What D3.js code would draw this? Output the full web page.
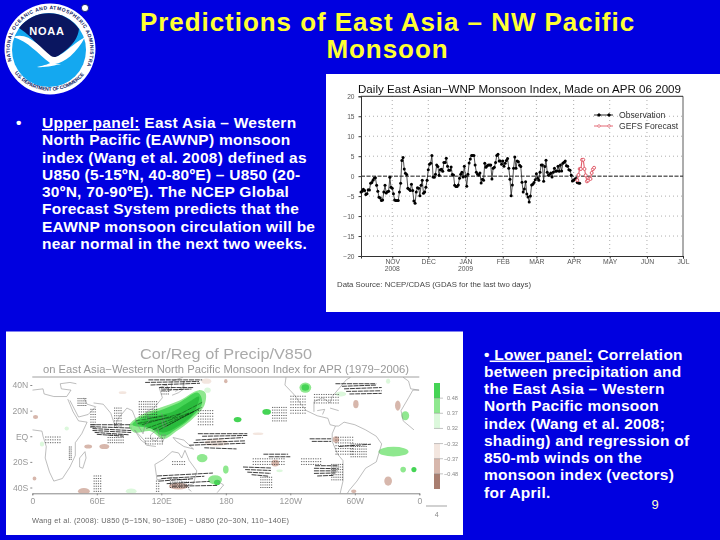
<!DOCTYPE html>
<html><head><meta charset="utf-8">
<script src="https://cdn.jsdelivr.net/npm/d3@7/dist/d3.min.js"></script>
<style>
html,body{margin:0;padding:0;background:#0000e0;overflow:hidden}
svg{display:block}
text{font-family:"Liberation Sans",Arial,sans-serif}
tspan.pre{white-space:pre}
</style></head><body>
<svg id="s" width="720" height="540"></svg>
<script>
// ---------- slide text ----------
const titleLines = ["Predictions of East Asia – NW Pacific", "Monsoon"];
const upperText = [
 "Upper panel: East Asia – Western","North Pacific (EAWNP) monsoon","index (Wang et al. 2008) defined as",
 "U850 (5-15ºN, 40-80ºE) – U850 (20-","30ºN, 70-90ºE). The NCEP Global","Forecast System predicts that the",
 "EAWNP monsoon circulation will be","near normal in the next two weeks."];
const lowerText = [
 "Lower panel: Correlation","between precipitation and","the East Asia – Western","North Pacific monsoon",
 "index (Wang et al. 2008;","shading) and regression of","850-mb winds on the","monsoon index (vectors)","for April."];
// ---------- monsoon index data (daily) ----------
const obsOct = [-4,-3.8,-3.3,-3.6,-4.6,-4.4,-3.4,-3.5,-1.8,-1.6,-1,-0.5,-0.4,-2.3,-3.8,-5.3,-5.5,-6.1,-6,-4,-2.3,-4.2,-3.9,-3.8,-0.3,-2.8];
const obsNov = [-3,-4.4,-6,-6.1,-6.1,-6.1,-4,-1.8,3.9,4.7,1.8,0.7,0.4,-3,-3.3,-3.6,-2,-3.6,-6.2,-6.8,-4,-2.9,-3,-4.9,-2.3,-1,-4.3,-4,-2.8,-1];
const obsDec = [1.6,3,3.2,5.2,-0.2,-0.3,0.5,2.8,2.4,0.2,1.6,1.7,1.2,3.4,3.4,4.5,2.5,1.5,1.5,2.3,0.4,0.3,-2.3,-2.6,-2.6,-2.2,-0.5,0.5,1,-0.2,2.5];
const obsJan = [0,-2.5,0.5,3.3,4.3,5.2,5.2,5.2,2.8,1,0.5,0.3,0.8,-1.7,-0.8,-1,3.2,2.2,2.6,2.8,2.8,2.8,-0.7,2,2.2,3.4,5.2,5.5,3.8,3.8,3];
const obsFeb = [3.8,2.5,3.2,3.9,4.4,2,-0.8,-4.9,-2.2,2,4.8,2,3.8,3.6,2.7,2.4,-1.5,-4,-3.2,-1.4,-4.5,-5.2,-6.5,-5,-2.2,-2,-1.6,-0.9];
const obsMar = [0.6,-0.5,-1,1,2.8,2.8,-1.3,2.4,4,1,0.2,0.5,0.8,-0.2,1,2,1.2,1.3,2.5,1.2,2.8,1.3,3.2,3.5,3.8,2.6,2.5,1.6,1.5,0.2,-1.2];
const obsApr = [-1,-0.7,-0.6,-1.6,-1.7,-1.8];
const forecastVals = [-1,0.3,1.8,1.8,4.1,4.1,1.8,0.2,-1.3,-1.1,-0.6,-0.7,0.8,1.7,2.1];
const yTicks = [20,15,10,5,0,-5,-10,-15,-20];
const monthTicks = [["2008-11-01","NOV","2008"],["2008-12-01","DEC",""],["2009-01-01","JAN","2009"],["2009-02-01","FEB",""],["2009-03-01","MAR",""],["2009-04-01","APR",""],["2009-05-01","MAY",""],["2009-06-01","JUN",""],["2009-07-01","JUL",""]];
// ---------- map data (lon 0-360, lat) ----------
const mapLonTicks = [[0,"0"],[60,"60E"],[120,"120E"],[180,"180"],[240,"120W"],[300,"60W"],[360,"0"]];
const mapLatTicks = [[40,"40N"],[20,"20N"],[0,"EQ"],[-20,"20S"],[-40,"40S"]];
const levelColors = {g3:"#45d455",g2:"#8fe88f",g1:"#dcf8dc",b1:"#f3e6df",b2:"#d7b7ac",b3:"#a97e70",g4:"#2cbc3c"};
const legendLevels = ["g3","g2","g1","none","b1","b2","b3"];
const legendLabels = ["0.48","0.37","0.32","-0.32","-0.37","-0.48"];
const mainGreenOuter = [[90,8],[100,16],[118,22],[137,28],[155,36],[161,34],[160,24],[147,12],[134,4],[122,-2],[110,4],[95,3]];
const mainGreenInner = [[93,9],[102,15],[118,20],[136,26],[154,34],[158,26],[146,13],[133,5],[122,0],[110,6]];
const mainGreenDark = [[98,10],[116,16],[130,19],[146,27],[155,31],[150,18],[136,8],[122,3],[108,7]];
const patches = [ // lon, lat, rx, ry, level
 [254,38,5.5,4,"g2"],[254,38,3.5,2.5,"g3"],[218,19,4,2.2,"g3"],[191,13,3.6,2,"g3"],[158,-17,5,3.2,"g2"],
 [170,-34,6.5,3.6,"g2"],[172,-36,3,2,"g3"],[180,-26,2.6,3.2,"g2"],[336,-12,14,3.8,"g2"],[347,16,3.6,3.6,"g2"],[345,-26,2.6,2.2,"g2"],
 [355,-26,2.4,2,"g3"],[287,33,5,2,"g1"],[331,43,2,2,"g1"],[92,-43,5,2.2,"g1"],[32,6,2,1.6,"g1"],[9,-6,2,2,"g1"],[163,36,3,2,"g1"],[230,-27,3,1,"g1"],
 [162,43,4.5,2,"b1"],[180,43,1.6,1.6,"b2"],[301,25,2.5,3.2,"b2"],[340,24,2.6,4,"b2"],[282.5,-2.6,3,2.6,"b2"],
 [331,-35,3.6,3.6,"b2"],[226,-21,3.6,2.6,"b2"],[136,-39,9,2.6,"b2"],[48,-43,5.5,2.6,"b2"],[3,15,2.4,1.6,"b2"],
 [2,-33,1.8,1.6,"b2"],[52,-8,3.6,1.6,"b2"],[67,-8,4.6,2,"b2"],[171,-5,11,3,"b1"],[299,-43,2.5,1.4,"b2"],[84,34,3.6,1.1,"b1"],[210,2,5,1,"b1"]
];
const coastlines = [
 [[0,5],[9,4],[10,0],[13,-8],[12,-17],[16,-28],[20,-35],[28,-33],[35,-24],[40,-15],[40,-5],[46,2],[51,11],[43,12],[38,19],[33,29]],
 [[0,36],[10,37],[11,33],[20,31],[32,31],[36,36],[27,37],[26,41],[35,42],[41,41]],
 [[35,28],[43,15],[52,17],[59,23],[51,25],[48,30]],
 [[57,26],[66,25],[69,22],[73,18],[77,8],[80,14],[88,22],[93,20],[95,16],[98,9],[103,2],[105,9],[109,12],[106,19],[113,22],[121,30],[118,38],[125,40],[127,35],[129,36],[130,43],[140,46]],
 [[130,32],[136,34],[141,37],[141,43],[140,38],[133,35]],
 [[95,5],[104,-3],[106,-6],[101,-3],[95,5]],[[106,-7],[115,-8]],
 [[110,1],[117,6],[118,0],[115,-4],[110,-2],[110,1]],
 [[120,18],[122,14],[125,8],[122,7],[120,14]],
 [[120,1],[124,1],[121,-5],[120,1]],
 [[131,-1],[141,-3],[150,-10],[141,-8],[134,-4],[131,-1]],
 [[114,-22],[122,-18],[130,-12],[136,-13],[139,-17],[142,-11],[146,-19],[153,-27],[150,-37],[143,-39],[138,-34],[130,-32],[116,-34],[114,-22]],
 [[145,-41],[148,-43]],[[172,-35],[178,-38],[172,-44]],
 [[49,-12],[50,-17],[47,-25],[44,-24],[44,-17],[49,-12]],
 [[236,46],[235,40],[243,33],[250,25],[255,20],[265,16],[275,14],[277,9],[282,8],[285,8],[290,11],[300,9],[310,5],[320,0],[325,-6],[320,-20],[310,-25],[302,-35],[295,-42],[292,-46]],
 [[282,8],[279,2],[279,-4],[284,-14],[289,-19],[289,-35],[286,-46]],
 [[262,19],[262,27],[270,30],[277,26],[279,31],[285,37],[292,44],[296,46]],
 [[277,22],[285,20]],[[265,20],[272,21],[270,17]],
 [[355,5],[345,12],[343,20],[350,30],[354,36],[360,36]],
 [[345,46],[350,43],[352,37],[360,36]]
];
const stipple = [ // lon0, lon1, lat0, lat1, step
 [99,116,15,29,2],[154,168,9,22,2.2],[42,50,24,31,1.8],[12,26,-5,0,2.2],[54,60,7,23,2],[76,84,8,24,2],
 [115,118,-43,-33,2],[128,146,-40,-32,2.1],[130,143,-22,-18,2.2],[212,224,-40,-30,2],[282,298,-14,1,2.2],[296,312,-16,-4,2],
 [57,64,-43,-29,2],[34,36,-18,-8,1.6],[70,86,-5,3,2],[105,122,-6,-1,2.2],[223,236,12,24,2.1],[240,254,18,33,2.2],
 [278,290,-34,-20,2],[205,235,-22,-17,2.2],[250,268,-22,-16,2.2],[262,286,26,34,2.2],[120,128,33,39,2]
];
const windRows = [ // lon0, lon1, lat, tilt(deg)
 [54,92,9,0],[54,92,7.5,-2],[56,92,6,-3],[56,92,4.5,-3],[58,90,3,-4],[60,85,1.5,-4],
 [108,158,44,0],[105,155,42,1],[110,156,40,2],[118,150,38,0],[120,148,36,2],
 [154,200,2,0],[158,200,0,1],[152,196,-3,3],[150,198,-5,2],[146,198,-7,2],[160,190,-9,-2],
 [116,168,-31,3],[120,160,-33,3],[118,150,-35,4],[125,165,-37,3],[130,172,-39,1],
 [196,222,-24,-2],[198,222,-26,-2],[200,222,-28,-3],[204,220,-30,-5],
 [263,285,-23,0],[262,285,-25,-1],[262,284,-27,0],[262,282,-29,1],[265,280,-31,2],
 [282,320,41,0],[288,320,39,2],[290,325,37,2],[292,325,35,1],[295,325,33,1],
 [258,278,-2,0],[260,278,-4,0],[215,238,-14,0],[220,240,-16,0],[285,315,-8,4],
 [96,125,12,10],[98,130,10,10],[102,138,9,16],[106,146,6,20],[112,150,5,24],[118,155,5,28],[125,158,8,28],[130,158,14,28]
];

// ---------- drawing ----------
const svg = d3.select("#s");
const blue = "#0000e0";
svg.append("rect").attr("width",720).attr("height",540).attr("fill",blue);
const defs = svg.append("defs");
defs.append("filter").attr("id","soft").attr("x","-5%").attr("y","-5%").attr("width","110%").attr("height","110%")
  .append("feGaussianBlur").attr("stdDeviation",0.45);

// title
svg.selectAll("text.t").data(titleLines).join("text").attr("class","t")
  .attr("x",387.5).attr("y",(d,i)=>30.5+i*27.5).attr("text-anchor","middle")
  .attr("font-size",26).attr("letter-spacing",0.95).attr("font-weight",700).attr("fill","#ffff33").text(d=>d);

// bullets
const bodySize = 15.5, bodySpacing = 0.25;
const bl = svg.append("g").attr("font-size",bodySize).attr("letter-spacing",bodySpacing).attr("font-weight",700).attr("fill","#fff");
bl.append("text").attr("x",16).attr("y",128).text("•");
upperText.forEach((s,i)=>{
  const t = bl.append("text").attr("x",42).attr("y",128+i*17.25);
  if(i===0){ t.append("tspan").attr("text-decoration","underline").text("Upper panel:"); t.append("tspan").attr("class","pre").text(s.slice(12)); }
  else t.text(s);
});
const br = svg.append("g").attr("font-size",bodySize).attr("letter-spacing",bodySpacing).attr("font-weight",700).attr("fill","#fff");
lowerText.forEach((s,i)=>{
  const t = br.append("text").attr("x",484).attr("y",359.5+i*17.25);
  if(i===0){ t.append("tspan").text("•"); t.append("tspan").attr("class","pre").attr("text-decoration","underline").text(" Lower panel:"); t.append("tspan").attr("class","pre").text(s.slice(12)); }
  else t.text(s);
});
svg.append("text").attr("x",655).attr("y",508.5).attr("text-anchor","middle").attr("font-size",13).attr("fill","#ffffcc").text("9");

// NOAA logo
const logo = svg.append("g").attr("transform","translate(50,49)");
logo.append("circle").attr("r",45.5).attr("fill","#fff");
logo.append("circle").attr("r",37).attr("cx",-1).attr("cy",1).attr("fill","#14a8f0");
logo.append("path").attr("fill","#0a1660")
  .attr("d","M-31,-21 A37,37 0 0 1 29,-20 C27,-3 10,5 1,12 C-6,5 -14,-10 -31,-21Z");
logo.append("path").attr("fill","#fff")
  .attr("d","M-37,-12 C-22,-18 -10,-2 1,7 C8,12 18,-2 35,-12 C27,4 14,14 5,15 L11,15 C6,16 -6,19 -13,18 C-4,16 -2,15 0,14 C-12,5 -22,-8 -37,-12Z");
logo.append("text").attr("x",-3).attr("y",-14).attr("text-anchor","middle").attr("font-size",11).attr("font-weight",700).attr("fill","#fff").attr("letter-spacing",0.8).text("NOAA");
defs.append("path").attr("id","ringTop").attr("d","M-37.5,15 A40.2,40.2 0 1 1 37.5,15");
defs.append("path").attr("id","ringBot").attr("d","M-36,23 A44,44 0 0 0 36,23");
logo.append("text").attr("font-size",5).attr("font-weight",700).attr("fill","#0a1660")
  .append("textPath").attr("href","#ringTop").attr("startOffset","2%").attr("textLength",168).text("NATIONAL OCEANIC AND ATMOSPHERIC ADMINISTRATION");
logo.append("text").attr("font-size",5).attr("font-weight",700).attr("fill","#0a1660")
  .append("textPath").attr("href","#ringBot").attr("startOffset","1%").attr("textLength",80).text("U.S. DEPARTMENT OF COMMERCE");
logo.append("circle").attr("cx",35).attr("cy",-41).attr("r",3.6).attr("fill","#fff").attr("stroke","#0a1660").attr("stroke-width",0.8);

// ---------- upper chart ----------
svg.append("rect").attr("x",326).attr("y",74).attr("width",394).attr("height",238).attr("fill","#fff");
const up = svg.append("g").attr("filter","url(#soft)");
const parse = d3.utcParse("%Y-%m-%d");
const day = 864e5;
const start = parse("2008-10-06");
const x = d3.scaleUtc().domain([start,parse("2009-07-01")]).range([361,683]);
const y = d3.scaleLinear().domain([-20,20]).range([256,96.3]);
const obsVals = [].concat(obsOct,obsNov,obsDec,obsJan,obsFeb,obsMar,obsApr);
const obs = obsVals.map((v,i)=>({d:new Date(+start+i*day),v}));
const fcStart = parse("2009-04-04");
const fc = forecastVals.map((v,i)=>({d:new Date(+fcStart+i*day),v}));
// grid
up.append("g").selectAll("line").data(yTicks.filter(t=>Math.abs(t)<20&&t!==0)).join("line")
  .attr("x1",361).attr("x2",683).attr("y1",y).attr("y2",y).attr("stroke","#999").attr("stroke-width",0.8).attr("stroke-dasharray","1 3");
up.append("g").selectAll("line").data(monthTicks.slice(0,8)).join("line")
  .attr("x1",d=>x(parse(d[0]))).attr("x2",d=>x(parse(d[0]))).attr("y1",96).attr("y2",256).attr("stroke","#999").attr("stroke-width",0.8).attr("stroke-dasharray","1 3");
up.append("line").attr("x1",361).attr("x2",683).attr("y1",y(0)).attr("y2",y(0)).attr("stroke","#111").attr("stroke-width",1).attr("stroke-dasharray","4 1.5");
// axes
const yAxis = d3.axisLeft(y).tickValues(yTicks).tickSize(2.5).tickFormat(d=>d<0?"−"+(-d):d);
const ya = up.append("g").attr("transform","translate(361,0)").call(yAxis);
ya.selectAll("text").attr("font-size",6.6).attr("fill","#555").attr("font-family","Liberation Sans").attr("dx",-1);
ya.selectAll("line,path").attr("stroke","#333");
const xAxis = d3.axisBottom(x).tickValues(monthTicks.map(d=>parse(d[0]))).tickSize(2.5).tickFormat((d,i)=>monthTicks[i][1]);
const xa = up.append("g").attr("transform","translate(0,256)").call(xAxis);
xa.selectAll("text").attr("font-size",6.8).attr("fill","#555").attr("font-family","Liberation Sans").attr("dy",2);
xa.selectAll("line,path").attr("stroke","#333");
up.append("g").selectAll("text").data(monthTicks.filter(d=>d[2])).join("text")
  .attr("x",d=>x(parse(d[0]))).attr("y",270.5).attr("text-anchor","middle").attr("font-size",6.8).attr("font-family","Liberation Sans").attr("fill","#555").text(d=>d[2]);
up.append("line").attr("x1",361).attr("x2",683).attr("y1",96.3).attr("y2",96.3).attr("stroke","#111").attr("stroke-width",.9);
up.append("line").attr("x1",683).attr("x2",683).attr("y1",96.3).attr("y2",256).attr("stroke","#333").attr("stroke-width",.8);
// series
const ln = d3.line().x(d=>x(d.d)).y(d=>y(d.v));
up.append("path").datum(obs).attr("d",ln).attr("fill","none").attr("stroke","#222").attr("stroke-width",0.8);
up.append("g").selectAll("circle").data(obs).join("circle").attr("cx",d=>x(d.d)).attr("cy",d=>y(d.v)).attr("r",1.5).attr("fill","#000");
up.append("path").datum(fc).attr("d",ln).attr("fill","none").attr("stroke","#e05a68").attr("stroke-width",1.1);
up.append("g").selectAll("circle").data(fc).join("circle").attr("cx",d=>x(d.d)).attr("cy",d=>y(d.v)).attr("r",1.5).attr("fill","#fff").attr("stroke","#e05a68").attr("stroke-width",1);
// title + legend
up.append("text").attr("x",519.5).attr("y",93).attr("text-anchor","middle").attr("font-size",10.8).attr("font-family","DejaVu Sans").attr("fill","#111").attr("textLength",323).attr("lengthAdjust","spacingAndGlyphs").text("Daily East Asian−WNP Monsoon Index, Made on APR 06 2009");
const legendItems = [["Observation","#111",115,"#000","#000"],["GEFS Forecast","#e05a68",126,"#fff","#e05a68"]];
legendItems.forEach(l=>{
  up.append("line").attr("x1",594).attr("x2",613).attr("y1",l[2]).attr("y2",l[2]).attr("stroke",l[1]).attr("stroke-width",0.9);
  [599,609].forEach(cx=>up.append("circle").attr("cx",cx).attr("cy",l[2]).attr("r",1.3).attr("fill",l[3]).attr("stroke",l[4]).attr("stroke-width",0.7));
  up.append("text").attr("x",619).attr("y",l[2]+2.6).attr("font-size",8.6).attr("font-family","DejaVu Sans").attr("fill","#333").text(l[0]);
});
up.append("text").attr("x",337).attr("y",287).attr("font-size",7).attr("font-family","DejaVu Sans").attr("fill","#444").attr("textLength",194).attr("lengthAdjust","spacingAndGlyphs").text("Data Source: NCEP/CDAS (GDAS for the last two days)");

// ---------- lower map ----------
svg.append("rect").attr("x",6).attr("y",331.5).attr("width",457).attr("height",203.5).attr("fill","#fff");
const mp = svg.append("g").attr("filter","url(#soft)");
const lon = d3.scaleLinear().domain([0,360]).range([32.3,419.3]);
const lat = d3.scaleLinear().domain([-40,40]).range([487.5,385]);
const mapTop = 377, mapBot = 493.3;
defs.append("clipPath").attr("id","mapClip").append("rect").attr("x",32.3).attr("y",mapTop).attr("width",387).attr("height",mapBot-mapTop);
const inner = mp.append("g").attr("clip-path","url(#mapClip)");
const curve = d3.line().x(d=>lon(d[0])).y(d=>lat(d[1])).curve(d3.curveCatmullRomClosed);
[[mainGreenOuter,"g2"],[mainGreenInner,"g3"],[mainGreenDark,"g4"]].forEach(p=>{
  inner.append("path").datum(p[0]).attr("d",curve).attr("fill",levelColors[p[1]]);
});
inner.append("g").selectAll("ellipse").data(patches).join("ellipse")
  .attr("cx",d=>lon(d[0])).attr("cy",d=>lat(d[1]))
  .attr("rx",d=>lon(d[2])-lon(0)).attr("ry",d=>lat(0)-lat(d[3])).attr("fill",d=>levelColors[d[4]]);
const coast = d3.line().x(d=>lon(d[0])).y(d=>lat(d[1]));
inner.append("g").selectAll("path").data(coastlines).join("path").attr("d",coast).attr("fill","none").attr("stroke","#888").attr("stroke-width",0.55);
// stipple (small wind vectors)
const dotData = stipple.flatMap(s=>d3.range(s[0],s[1],s[4]).flatMap(a=>d3.range(s[2],s[3],s[4]).map(b=>[a,b])));
inner.append("g").selectAll("line").data(dotData).join("line")
  .attr("x1",d=>lon(d[0])).attr("y1",d=>lat(d[1])).attr("x2",d=>lon(d[0])+1.2).attr("y2",d=>lat(d[1]))
  .attr("stroke","#222").attr("stroke-width",0.7);
// wind streak rows
inner.append("g").selectAll("line").data(windRows).join("line")
  .attr("x1",d=>lon(d[0])).attr("y1",d=>lat(d[2])).attr("x2",d=>lon(d[1])).attr("y2",d=>lat(d[2])-Math.tan(d[3]*Math.PI/180)*(lon(d[1])-lon(d[0])))
  .attr("stroke","#000").attr("stroke-width",0.75).attr("stroke-opacity",d=>d[3]>=10?0.5:1).attr("stroke-dasharray","5 0.8");
// frame + ticks
mp.append("line").attr("x1",32.3).attr("x2",419.3).attr("y1",mapTop).attr("y2",mapTop).attr("stroke","#888").attr("stroke-width",.8);
const ax = d3.axisBottom(lon).tickValues(mapLonTicks.map(d=>d[0])).tickSize(2).tickPadding(3).tickFormat((d,i)=>mapLonTicks[i][1]);
const axg = mp.append("g").attr("transform",`translate(0,${mapBot})`).call(ax);
axg.selectAll("text").attr("font-size",8.6).attr("fill","#999");
axg.selectAll("line,path").attr("stroke","#888");
const ay = d3.axisLeft(lat).tickValues(mapLatTicks.map(d=>d[0])).tickSize(2).tickPadding(2).tickFormat((d,i)=>mapLatTicks[i][1]);
const ayg = mp.append("g").attr("transform","translate(32.3,0)").call(ay);
ayg.select("path").remove();
ayg.selectAll("text").attr("font-size",8.6).attr("fill","#999");
ayg.selectAll("line").attr("stroke","#888");
// map titles
mp.append("text").attr("x",226).attr("y",358.5).attr("text-anchor","middle").attr("font-size",15).attr("fill","#aaa").attr("textLength",172).attr("lengthAdjust","spacingAndGlyphs").text("Cor/Reg of Precip/V850");
mp.append("text").attr("x",226).attr("y",373).attr("text-anchor","middle").attr("font-size",10).attr("fill","#999").attr("textLength",366).attr("lengthAdjust","spacingAndGlyphs").text("on East Asia−Western North Pacific Monsoon Index for APR (1979−2006)");
mp.append("text").attr("x",32).attr("y",523).attr("font-size",7.4).attr("fill","#666").attr("textLength",257).text("Wang et al. (2008): U850 (5−15N, 90−130E) − U850 (20−30N, 110−140E)");
// colour bar
const band = d3.scaleBand().domain(legendLevels).range([383,489]);
mp.append("g").selectAll("rect").data(legendLevels.filter(d=>d!=="none")).join("rect")
  .attr("x",434).attr("width",6).attr("y",d=>band(d)).attr("height",band.bandwidth()).attr("fill",d=>levelColors[d]);
const labelY = d3.scaleOrdinal().domain(legendLabels).range(legendLevels.slice(0,3).map(d=>band(d)+band.bandwidth()).concat(legendLevels.slice(3,6).map(d=>band(d)+band.bandwidth())));
mp.append("g").selectAll("text").data(legendLabels).join("text")
  .attr("x",(d,i)=>i<3?447:444).attr("y",d=>labelY(d)+2).attr("font-size",5.6).attr("fill","#888").text(d=>d.replace("-","−"));
mp.append("g").selectAll("line").data(legendLabels).join("line")
  .attr("x1",434).attr("x2",443).attr("y1",d=>labelY(d)).attr("y2",d=>labelY(d)).attr("stroke","#888").attr("stroke-width",.5);
// reference vector
mp.append("line").attr("x1",426).attr("x2",447).attr("y1",506).attr("y2",506).attr("stroke","#666").attr("stroke-width",.6);
mp.append("text").attr("x",436.7).attr("y",517).attr("text-anchor","middle").attr("font-size",7).attr("fill","#888").text("4");
</script>
</body></html>
